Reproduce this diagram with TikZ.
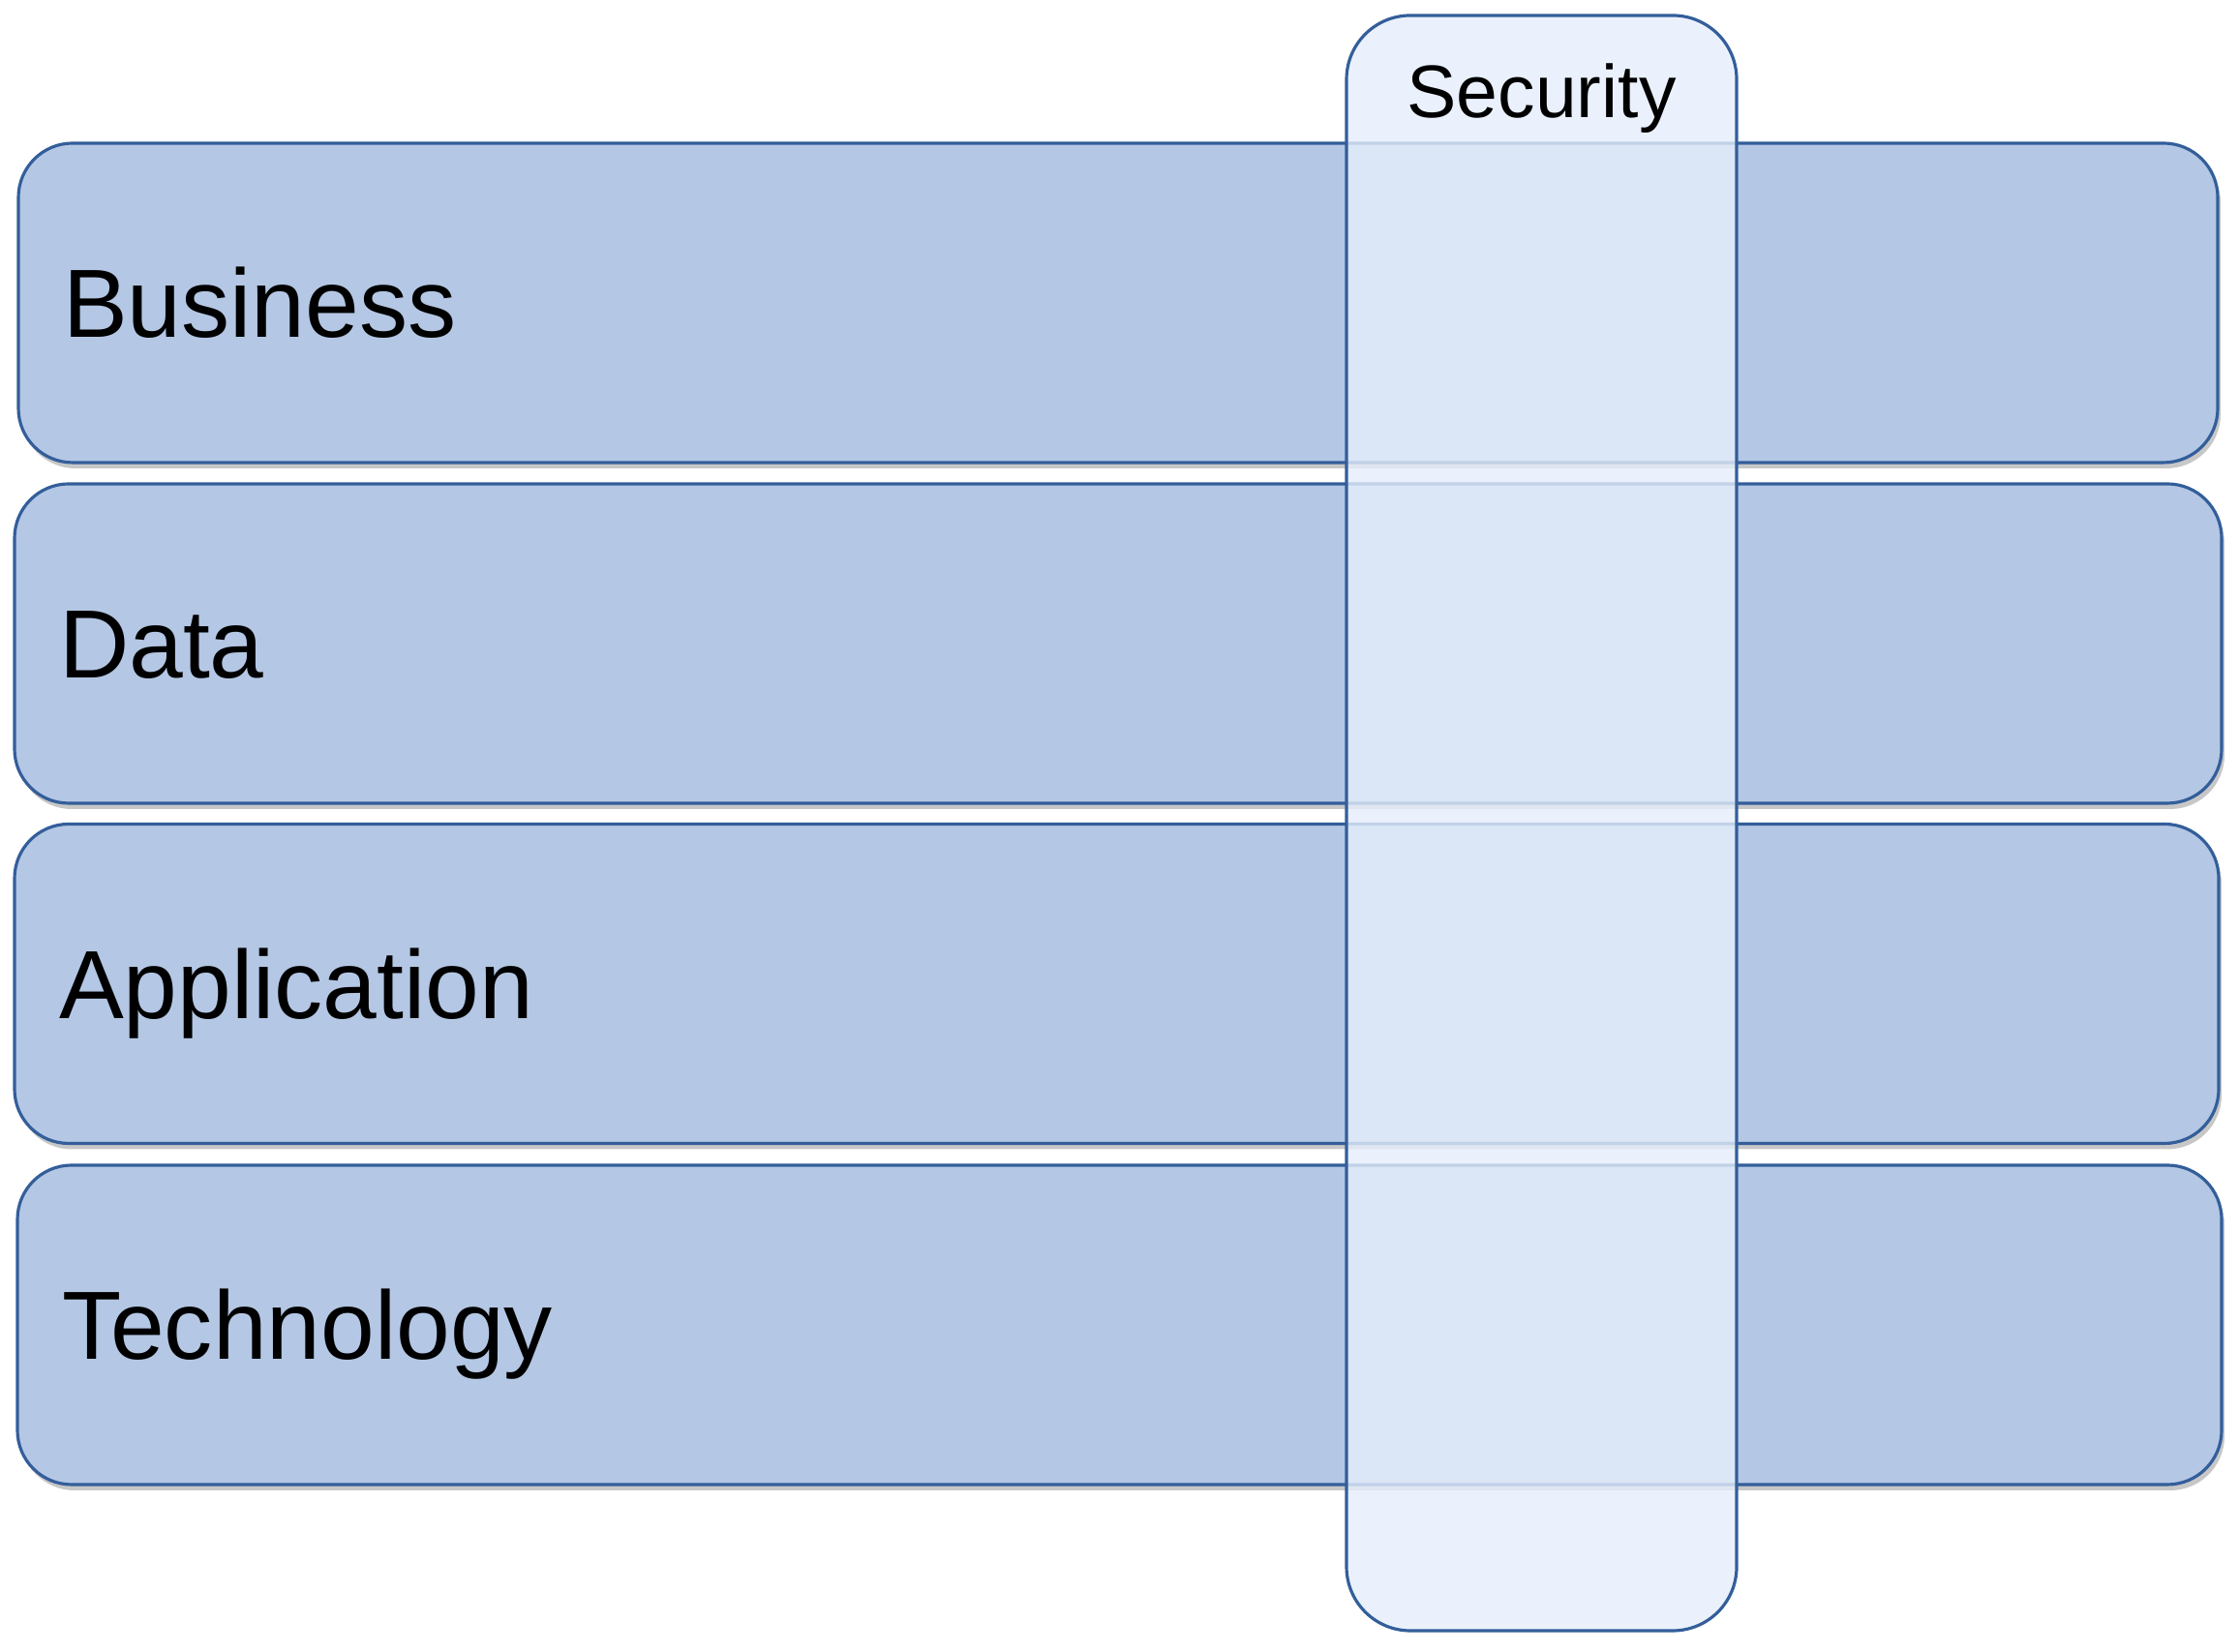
\documentclass[tikz,border=0pt]{standalone}
\usepackage{fontspec}
\setmainfont{Liberation Sans}
\usepackage{tikz}
\usetikzlibrary{shadows}

\definecolor{layerfill}{RGB}{180,199,228}
\definecolor{layerline}{RGB}{51,94,154}
\definecolor{securefill}{RGB}{229,238,251}

\begin{document}
\begin{tikzpicture}[
		layer/.style={rectangle, rounded corners=0.56cm, draw=layerline, line width=0.9pt, fill=layerfill, inner sep=0pt, minimum width=22.77cm, minimum height=3.30cm, drop shadow={shadow xshift=0.03cm, shadow yshift=-0.06cm, fill=black!22, opacity=1}},
		layertext/.style={anchor=base west, inner sep=0pt, font=\fontsize{28.5}{34}\selectfont},
		pillar/.style={rectangle, rounded corners=0.66cm, draw=layerline, line width=0.9pt, fill=securefill, fill opacity=0.8, text opacity=1, inner sep=0pt, minimum width=4.03cm, minimum height=16.69cm}
	]
			\useasboundingbox (0, 0) rectangle (23.13, 17.07);
			
			% Top (Business)
			\node[layer, minimum width=22.72cm] (business) at (11.55, 13.94) {};
			\node[layertext] (businesslabel) at ([xshift=0.47cm, yshift=-0.36cm]business.west) {Business};
			
			% Upper (Data)
			\node[layer, minimum width=22.80cm] (data) at (11.55, 10.42) {};
			\node[layertext] (datalabel) at ([xshift=0.47cm, yshift=-0.36cm]data.west) {Data};
			
			% Lower (Application)
			\node[layer] (application) at (11.535, 6.905) {};
			\node[layertext] (applicationlabel) at ([xshift=0.47cm, yshift=-0.36cm]application.west) {Application};
			
			% Bottom (Technology)
			\node[layer] (technology) at (11.565, 3.38) {};
			\node[layertext] (technologylabel) at ([xshift=0.47cm, yshift=-0.36cm]technology.west) {Technology};
			
			% Across all layers
			\node[pillar] (security) at (15.925, 8.565) {};
			\node[anchor=base, inner sep=0pt, font=\fontsize{21.9}{26}\selectfont] (securitylabel) at ([yshift=-1.07cm]security.north) {Security};
			
		\end{tikzpicture}
\end{document}
